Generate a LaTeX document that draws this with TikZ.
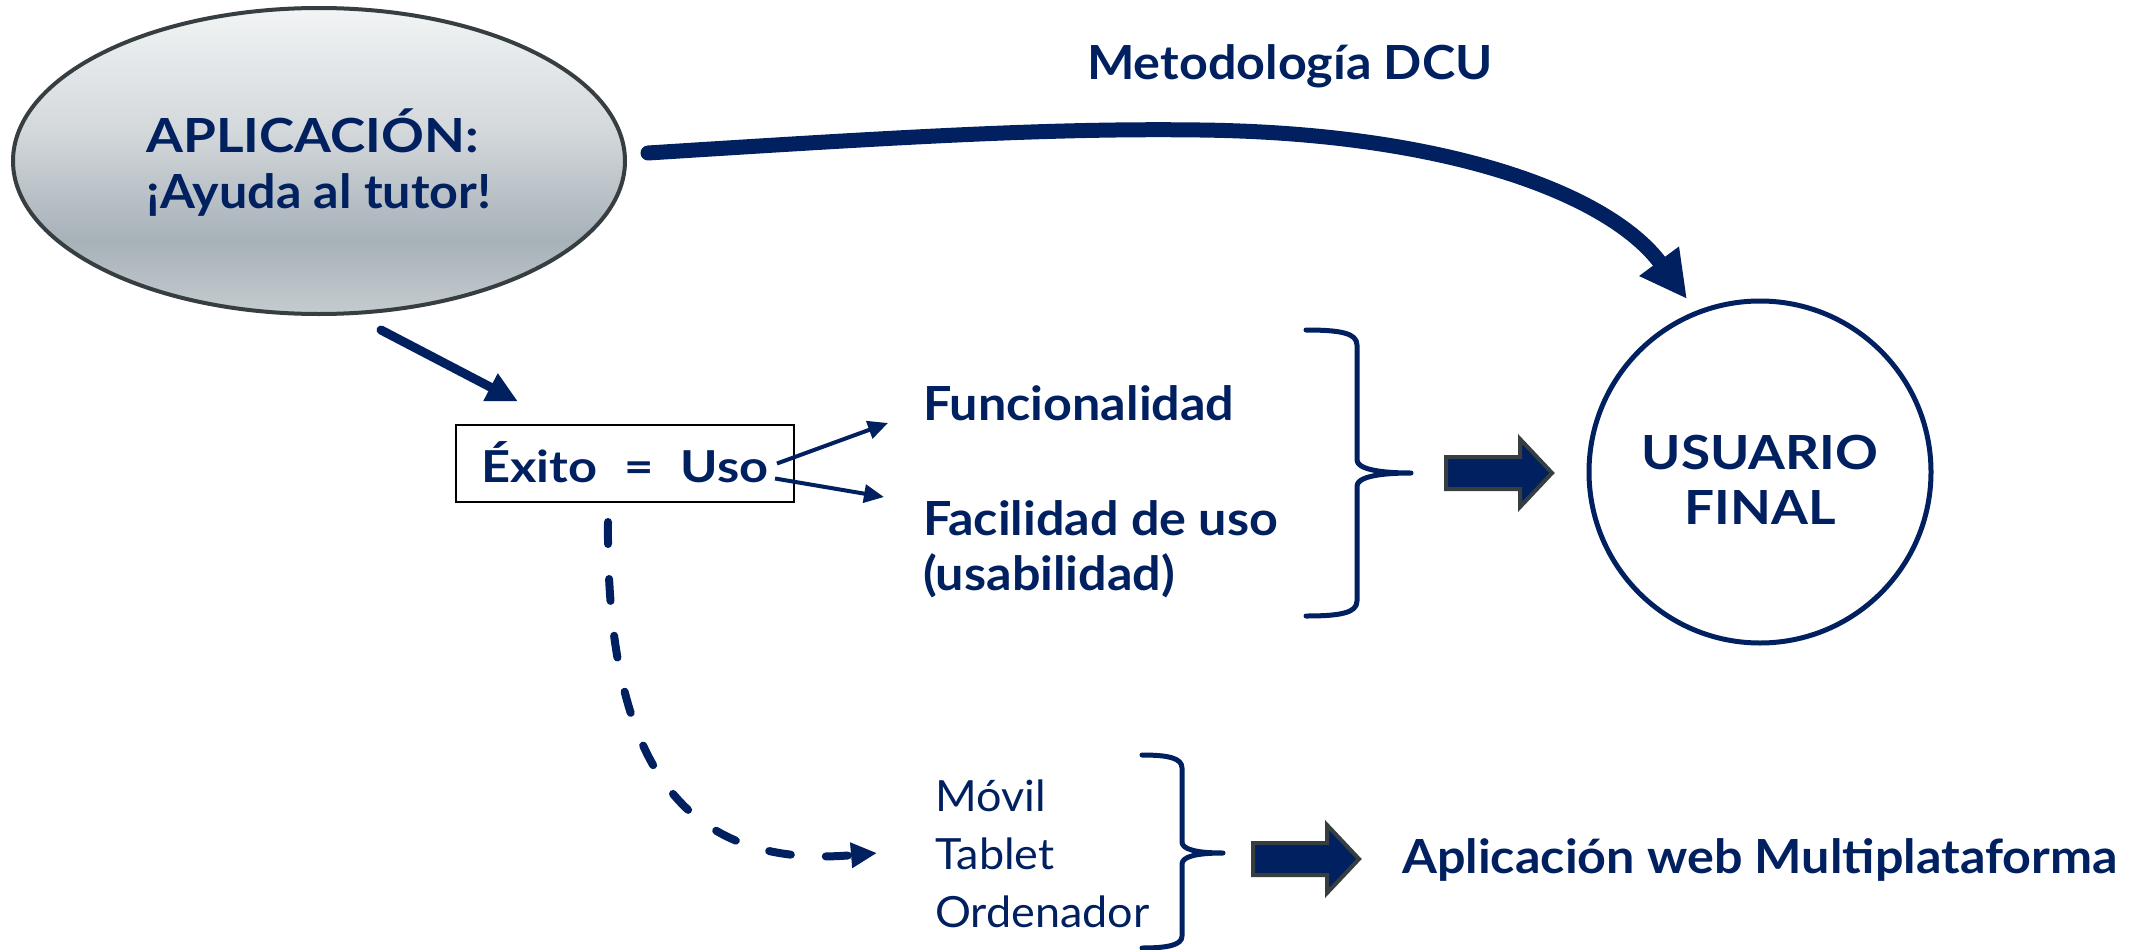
\documentclass[tikz,border=0pt]{standalone}
\usepackage{fontspec}
\setmainfont{Lato}
\newfontfamily\latoW{Lato}[FakeStretch=1.07]
\newfontfamily\latoC{Lato}[FakeStretch=1.13]
\newfontfamily\latoE{Lato}[FakeStretch=1.15]
\newfontfamily\latoR{Lato}[FakeStretch=1.045]
\usetikzlibrary{arrows.meta,shapes.geometric,calc}
\definecolor{navy}{RGB}{0,32,96}
\definecolor{edgegray}{RGB}{55,62,66}
\definecolor{shA}{HTML}{F2F4F5}
\definecolor{shB}{HTML}{D3D8DB}
\definecolor{shC}{HTML}{A7B1B8}
\definecolor{shD}{HTML}{C5CCD0}
\pgfdeclareverticalshading{ellshade}{100bp}{color(0bp)=(shD); color(25bp)=(shD); color(37bp)=(shC); color(55bp)=(shB); color(75bp)=(shA); color(100bp)=(shA)}
\tikzset{
  boldtxt/.style={text=navy, inner sep=0pt, font=\latoW\bfseries\fontsize{47}{55}\selectfont},
  regtxt/.style={text=navy, inner sep=0pt, font=\latoR\fontsize{43}{58}\selectfont},
  bracepath/.style={draw=navy, line width=5pt, line cap=round, line join=round},
  blockarrow/.style={fill=navy, draw=edgegray, line width=4pt, line join=miter},
}
\begin{document}
\begin{tikzpicture}[x=1pt,y=-1pt]
\useasboundingbox (0,0) rectangle (2136,950);

% ellipse
\node[ellipse, draw=edgegray, line width=4pt, shade, shading=ellshade,
      minimum width=612pt, minimum height=306pt, inner sep=0pt, align=left,
      text=navy, font=\latoC\bfseries\fontsize{47}{56}\selectfont,
      text height=103pt, text depth=9pt] (app) at (319,161) {APLICACIÓN:\\{\latoW\bfseries ¡Ayuda al tutor!}};

% circle
\node[circle, draw=navy, line width=5pt, minimum size=342pt, inner sep=0pt,
      align=center, text=navy, font=\latoC\bfseries\fontsize{47}{55}\selectfont,
      text height=104pt, text depth=0pt] (user) at (1760,472) {USUARIO\\FINAL};

% title of the curved arrow
\node[boldtxt, anchor=base west] (dcu) at (1087,80) {Metodología DCU};

% box
\node[draw=black, line width=2pt, minimum width=338pt, minimum height=77pt, inner sep=0pt,
      text=navy, font=\latoE\bfseries\fontsize{44}{50}\selectfont, text height=37pt, text depth=0pt]
      (ex) at (625,463.5) {Éxito\hspace{27pt}=\hspace{27pt}Uso\hspace{18pt}};

\node[boldtxt, anchor=base west] (func) at (923,420) {Funcionalidad};
\node[boldtxt, anchor=base west, align=left] (facil) at (923,590) {Facilidad de uso\\(usabilidad)};

\node[regtxt, anchor=base west, align=left] (mov) at (935,927) {Móvil\\Tablet\\Ordenador};
\node[boldtxt, anchor=base west] (web) at (1402,873) {Aplicación web Multiplataforma};

% curved big arrow
\draw[navy, line width=15pt, line cap=round, -{Triangle[length=47pt,width=46pt]}]
  ($(app.center)+(329,-8)$) .. controls (900,137) and (1050,128) .. (1200,130)
  .. controls (1450,133) and (1610,195) .. ($(user.center)+(-73,-173)$);

% ellipse -> box
\draw[navy, line width=9pt, line cap=round, -{Triangle[length=31pt,width=29pt]}]
  ($(app.center)+(62,169)$) -- ($(ex.center)+(-107,-62)$);

% box -> two items
\draw[navy, line width=4pt, -{Triangle[length=20pt,width=18pt]}]
  ($(ex.center)+(152,0)$) -- ($(func.base west)+(-35,3)$);
\draw[navy, line width=4pt, -{Triangle[length=20pt,width=18pt]}]
  ($(ex.center)+(150,15)$) -- ($(facil.base west)+(-39,-93)$);

% dashed curve
\draw[navy, line width=8pt, line cap=round, dash pattern=on 22pt off 35pt,
      -{Triangle[length=26pt,width=24pt]}]
  ($(ex.center)+(-17,58.5)$) .. controls (606,760) and (680,870) .. ($(mov.base west)+(-58,-74)$);

% brace 1
\draw[bracepath] (1306,330) .. controls (1340,330) and (1357,333) .. (1357,345)
  -- (1357,460) .. controls (1357,468) and (1375,473) .. (1411,473)
  .. controls (1375,473) and (1357,478) .. (1357,486)
  -- (1357,601) .. controls (1357,613) and (1340,616) .. (1306,616);

% brace 2
\draw[bracepath] (1142,755) .. controls (1168,755) and (1182,758) .. (1182,768)
  -- (1182,842) .. controls (1182,849) and (1195,853) .. (1223,853)
  .. controls (1195,853) and (1182,857) .. (1182,864)
  -- (1182,936) .. controls (1182,945) and (1168,948) .. (1142,948);

% block arrows
\draw[blockarrow] (1446,457) -- (1520,457) -- (1520,439) -- (1552,473) -- (1520,507) -- (1520,489) -- (1446,489) -- cycle;
\draw[blockarrow] (1253,843) -- (1327,843) -- (1327,825) -- (1359,859) -- (1327,893) -- (1327,875) -- (1253,875) -- cycle;
\end{tikzpicture}
\end{document}
